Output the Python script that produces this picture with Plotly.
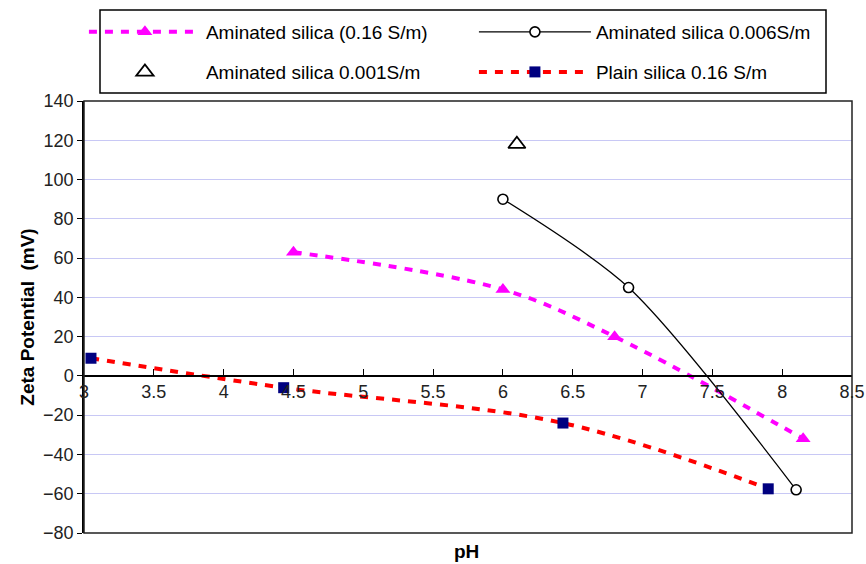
import plotly.graph_objects as go

# Data
ph_amin_016 = [4.5, 6.0, 6.8, 8.15]
zp_amin_016 = [63, 44, 20, -32]

ph_amin_0006 = [6.0, 6.9, 8.1]
zp_amin_0006 = [90, 45, -58]

ph_amin_0001 = [6.1]
zp_amin_0001 = [118]

ph_plain_016 = [3.05, 4.43, 6.43, 7.9]
zp_plain_016 = [9, -6, -24, -57.5]

x_ticks = [3, 3.5, 4, 4.5, 5, 5.5, 6, 6.5, 7, 7.5, 8, 8.5]
x_tick_text = ["3", "3.5", "4", "4.5", "5", "5.5", "6", "6.5", "7", "7.5", "8", "8.5"]

FONT = "Liberation Sans, Arial, sans-serif"

fig = go.Figure()

fig.add_trace(go.Scatter(
    x=ph_amin_016, y=zp_amin_016, mode="lines+markers",
    name="Aminated silica (0.16 S/m)",
    line=dict(color="#ff00ff", width=4, dash="8px,8px", shape="spline", smoothing=1),
    marker=dict(symbol="triangle-up", size=13, color="#ff00ff"),
    legend="legend",
))
fig.add_trace(go.Scatter(
    x=ph_amin_0006, y=zp_amin_0006, mode="lines+markers",
    name="Aminated silica 0.006S/m",
    line=dict(color="black", width=1.3, shape="spline", smoothing=0.8),
    marker=dict(symbol="circle", size=10, color="white", line=dict(color="black", width=1.6)),
    legend="legend",
))
fig.add_trace(go.Scatter(
    x=ph_amin_0001, y=zp_amin_0001, mode="markers",
    name="Aminated silica 0.001S/m",
    marker=dict(symbol="triangle-up", size=15, color="white", line=dict(color="black", width=1.8)),
    legend="legend2",
))
fig.add_trace(go.Scatter(
    x=ph_plain_016, y=zp_plain_016, mode="lines+markers",
    name="Plain silica 0.16 S/m",
    line=dict(color="#ff0000", width=4, dash="8px,8px", shape="spline", smoothing=1),
    marker=dict(symbol="square", size=11, color="#000080"),
    legend="legend2",
))

legend_common = dict(
    orientation="h", xanchor="left", yanchor="middle",
    font=dict(family=FONT, size=19, color="black"),
    bgcolor="rgba(0,0,0,0)", borderwidth=0,
    itemwidth=112, entrywidth=263, entrywidthmode="pixels",
    itemclick=False,
)

fig.update_layout(
    width=866, height=564,
    margin=dict(l=84, r=14, t=101, b=31),
    paper_bgcolor="white", plot_bgcolor="white",
    font=dict(family=FONT, size=18, color="black"),
    showlegend=True,
    legend=dict(x=-0.0001, y=1.1597, **legend_common),
    legend2=dict(x=-0.0001, y=1.067, **legend_common),
    xaxis=dict(
        range=[3, 8.5], tickvals=x_ticks, ticktext=x_tick_text,
        anchor="free", position=80 / 220,
        showgrid=False, zeroline=False,
        showline=True, linecolor="black", linewidth=1.5,
        ticks="inside", ticklen=6, tickcolor="black", tickwidth=1.2,
        tickfont=dict(family=FONT, size=18, color="#222"),
        automargin=False,
    ),
    yaxis=dict(
        range=[-80, 140], dtick=20,
        showgrid=True, gridcolor="#c8c8f5", gridwidth=1.2,
        zeroline=False,
        showline=True, linecolor="black", linewidth=1.5,
        ticks="outside", ticklen=5, tickcolor="black", tickwidth=1.2,
        tickfont=dict(family=FONT, size=18, color="#222"),
        title=dict(text="<b>Zeta Potential  (mV)</b>", font=dict(family=FONT, size=19, color="black"), standoff=3),
        automargin=False,
    ),
    shapes=[
        dict(type="rect", xref="x domain", yref="y domain", x0=0, x1=1, y0=0, y1=1,
             line=dict(color="#222", width=1.5), fillcolor="rgba(0,0,0,0)", layer="above"),
        dict(type="rect", xref="paper", yref="paper",
             x0=(100 - 84) / 768, x1=(826 - 84) / 768,
             y0=(533 - 93) / 432, y1=(533 - 10) / 432,
             line=dict(color="black", width=1.5), fillcolor="rgba(0,0,0,0)"),
    ],
    annotations=[
        dict(text="<b>pH</b>", xref="paper", yref="paper", x=(466 - 84) / 768, y=(533 - 551) / 432,
             xanchor="center", yanchor="middle", showarrow=False,
             font=dict(family=FONT, size=19, color="black")),
    ],
)

fig.write_html("out.html")
